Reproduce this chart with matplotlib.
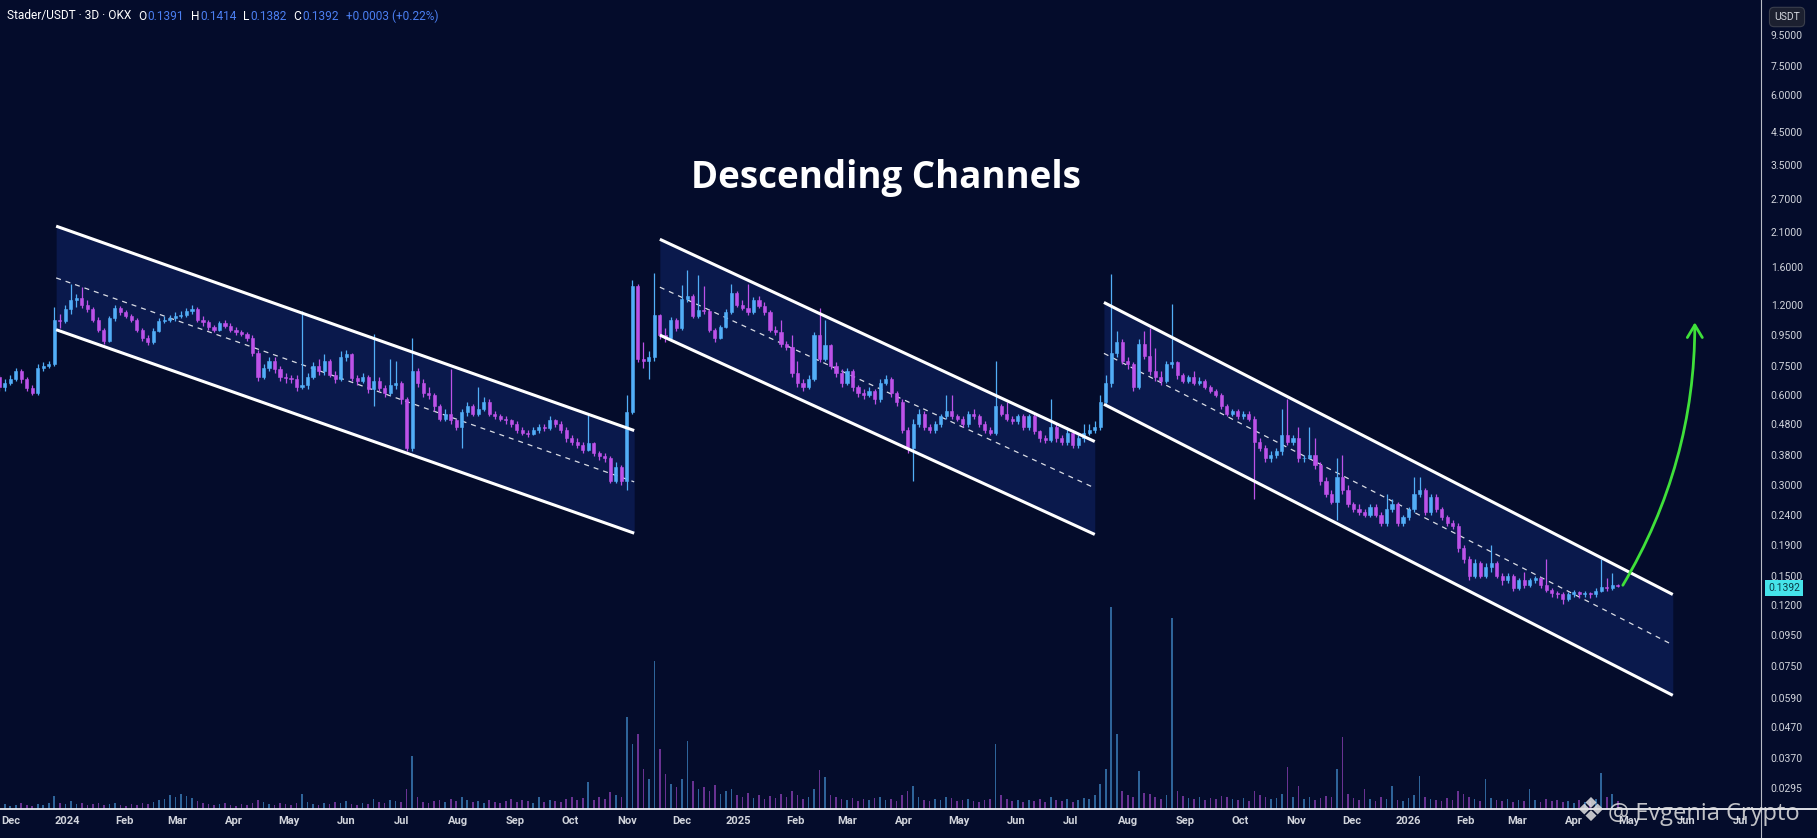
import matplotlib
matplotlib.use("Agg")
import matplotlib.pyplot as plt
import matplotlib.dates as mdates
from matplotlib.lines import Line2D
from matplotlib.ticker import NullLocator
import pandas as pd

BG = "#040c2b"
UP = "#52aef7"
DOWN = "#bd52e8"
FILL = "#0b1a4e"
AXIS_TXT = "#d1d4dc"

# 3D candles, Stader/USDT on OKX
first_open = 0.69
closes = [
    0.64, 0.66, 0.68, 0.72, 0.68, 0.635, 0.61, 0.74, 0.75, 0.76,
    1.07, 1.06, 1.16, 1.24, 1.26, 1.20, 1.16, 1.07, 0.99, 0.91,
    1.08, 1.17, 1.13, 1.10, 1.07, 0.99, 0.93, 0.90, 0.98, 1.06,
    1.07, 1.08, 1.10, 1.11, 1.14, 1.16, 1.07, 1.05, 1.01, 0.99,
    1.04, 1.02, 0.99, 0.97, 0.96, 0.93, 0.83, 0.69, 0.74, 0.78,
    0.73, 0.69, 0.685, 0.68, 0.64, 0.65, 0.69, 0.75, 0.72, 0.78,
    0.70, 0.68, 0.80, 0.82, 0.685, 0.67, 0.69, 0.63, 0.67, 0.635,
    0.61, 0.65, 0.66, 0.58, 0.40, 0.72, 0.66, 0.61, 0.60, 0.55,
    0.50, 0.52, 0.495, 0.47, 0.525, 0.55, 0.52, 0.54, 0.57, 0.52,
    0.51, 0.50, 0.495, 0.48, 0.46, 0.45, 0.445, 0.46, 0.47, 0.465,
    0.495, 0.48, 0.46, 0.43, 0.42, 0.41, 0.395, 0.415, 0.385, 0.375,
    0.37, 0.31, 0.345, 0.31, 0.525, 1.38, 0.79, 0.78, 0.80, 1.11,
    0.95, 0.93, 1.07, 1.00, 1.25, 1.28, 1.10, 1.15, 1.14, 0.99,
    0.93, 1.01, 1.13, 1.31, 1.20, 1.17, 1.13, 1.24, 1.19, 1.13,
    0.99, 0.97, 0.89, 0.87, 0.71, 0.66, 0.64, 0.68, 0.95, 0.79,
    0.88, 0.75, 0.71, 0.66, 0.72, 0.64, 0.61, 0.60, 0.62, 0.58,
    0.66, 0.68, 0.61, 0.57, 0.46, 0.40, 0.48, 0.52, 0.47, 0.46,
    0.48, 0.51, 0.53, 0.51, 0.50, 0.48, 0.52, 0.51, 0.48, 0.46,
    0.45, 0.55, 0.52, 0.50, 0.49, 0.51, 0.47, 0.51, 0.455, 0.43,
    0.425, 0.47, 0.43, 0.42, 0.45, 0.41, 0.43, 0.45, 0.46, 0.47,
    0.57, 0.66, 0.83, 0.90, 0.78, 0.76, 0.64, 0.89, 0.81, 0.72,
    0.69, 0.67, 0.76, 0.77, 0.70, 0.67, 0.69, 0.66, 0.67, 0.64,
    0.62, 0.60, 0.55, 0.52, 0.53, 0.51, 0.52, 0.50, 0.42, 0.40,
    0.37, 0.38, 0.39, 0.44, 0.42, 0.43, 0.37, 0.37, 0.38, 0.35,
    0.31, 0.28, 0.265, 0.32, 0.29, 0.26, 0.25, 0.245, 0.24, 0.255,
    0.24, 0.225, 0.25, 0.26, 0.225, 0.235, 0.25, 0.28, 0.29, 0.245,
    0.275, 0.25, 0.235, 0.225, 0.22, 0.185, 0.17, 0.15, 0.165, 0.15,
    0.16, 0.165, 0.15, 0.145, 0.15, 0.137, 0.145, 0.14, 0.145, 0.147,
    0.14, 0.135, 0.131, 0.13, 0.126, 0.13, 0.132, 0.13, 0.131, 0.13,
    0.134, 0.138, 0.137, 0.14, 0.1392,
]
highs = [
    0.70, 0.68, 0.70, 0.74, 0.73, 0.69, 0.65, 0.76, 0.77, 0.78,
    1.18, 1.12, 1.20, 1.40, 1.30, 1.37, 1.24, 1.18, 1.09, 1.00,
    1.10, 1.20, 1.19, 1.15, 1.12, 1.08, 1.00, 0.95, 1.00, 1.08,
    1.10, 1.11, 1.13, 1.14, 1.17, 1.20, 1.18, 1.10, 1.07, 1.03,
    1.06, 1.07, 1.04, 1.01, 0.99, 0.97, 0.95, 0.85, 0.76, 0.80,
    0.80, 0.75, 0.71, 0.70, 0.70, 1.14, 0.71, 0.77, 0.79, 0.82,
    0.79, 0.72, 0.84, 0.85, 0.83, 0.70, 0.71, 0.70, 0.96, 0.69,
    0.65, 0.79, 0.78, 0.67, 0.59, 0.93, 0.74, 0.68, 0.64, 0.61,
    0.56, 0.54, 0.73, 0.50, 0.54, 0.57, 0.56, 0.64, 0.59, 0.58,
    0.53, 0.52, 0.51, 0.50, 0.49, 0.47, 0.46, 0.47, 0.48, 0.48,
    0.51, 0.50, 0.49, 0.47, 0.44, 0.43, 0.42, 0.52, 0.42, 0.39,
    0.385, 0.375, 0.36, 0.35, 0.60, 1.45, 1.40, 0.90, 0.84, 1.53,
    1.12, 1.00, 1.09, 1.08, 1.39, 1.57, 1.30, 1.50, 1.38, 1.16,
    1.00, 1.03, 1.16, 1.40, 1.33, 1.24, 1.40, 1.27, 1.28, 1.22,
    1.15, 1.02, 1.07, 0.91, 0.95, 0.78, 0.68, 0.70, 0.97, 1.17,
    1.07, 0.89, 0.77, 0.73, 0.74, 0.73, 0.65, 0.63, 0.64, 0.63,
    0.68, 0.70, 0.69, 0.62, 0.58, 0.47, 0.50, 0.54, 0.53, 0.48,
    0.49, 0.52, 0.60, 0.60, 0.52, 0.51, 0.53, 0.54, 0.52, 0.49,
    0.47, 0.78, 0.56, 0.57, 0.51, 0.52, 0.52, 0.52, 0.52, 0.46,
    0.44, 0.58, 0.48, 0.44, 0.47, 0.46, 0.44, 0.48, 0.48, 0.49,
    0.60, 0.70, 1.52, 0.98, 0.92, 0.80, 0.77, 0.92, 0.98, 1.00,
    0.86, 0.72, 0.78, 1.21, 0.78, 0.71, 0.70, 0.72, 0.69, 0.68,
    0.65, 0.63, 0.61, 0.56, 0.54, 0.54, 0.53, 0.53, 0.51, 0.43,
    0.41, 0.39, 0.40, 0.54, 0.58, 0.44, 0.47, 0.38, 0.47, 0.43,
    0.36, 0.32, 0.29, 0.37, 0.38, 0.30, 0.265, 0.26, 0.25, 0.26,
    0.26, 0.245, 0.28, 0.27, 0.265, 0.24, 0.255, 0.32, 0.32, 0.295,
    0.28, 0.28, 0.255, 0.24, 0.23, 0.225, 0.19, 0.175, 0.17, 0.168,
    0.165, 0.19, 0.168, 0.153, 0.153, 0.152, 0.148, 0.155, 0.148, 0.15,
    0.149, 0.17, 0.137, 0.134, 0.132, 0.133, 0.135, 0.134, 0.134, 0.133,
    0.137, 0.17, 0.148, 0.153, 0.1414,
]
lows = [
    0.62, 0.62, 0.65, 0.67, 0.66, 0.62, 0.60, 0.60, 0.72, 0.74,
    0.75, 1.00, 1.04, 1.12, 1.18, 1.17, 1.13, 1.05, 0.97, 0.89,
    0.90, 1.06, 1.11, 1.08, 1.05, 0.97, 0.91, 0.88, 0.89, 0.97,
    1.04, 1.05, 1.06, 1.08, 1.09, 1.12, 1.05, 1.02, 0.99, 0.97,
    0.98, 1.00, 0.97, 0.95, 0.94, 0.91, 0.81, 0.67, 0.68, 0.72,
    0.71, 0.67, 0.66, 0.66, 0.62, 0.63, 0.63, 0.68, 0.70, 0.70,
    0.69, 0.66, 0.67, 0.78, 0.67, 0.65, 0.66, 0.61, 0.55, 0.62,
    0.59, 0.60, 0.63, 0.56, 0.39, 0.39, 0.64, 0.59, 0.58, 0.53,
    0.49, 0.49, 0.48, 0.46, 0.40, 0.51, 0.51, 0.51, 0.53, 0.51,
    0.50, 0.49, 0.48, 0.47, 0.45, 0.44, 0.435, 0.44, 0.45, 0.455,
    0.46, 0.47, 0.45, 0.42, 0.41, 0.40, 0.385, 0.39, 0.375, 0.365,
    0.36, 0.306, 0.305, 0.30, 0.29, 0.52, 0.77, 0.74, 0.68, 0.78,
    0.92, 0.90, 0.92, 0.98, 0.99, 1.22, 1.08, 1.08, 1.12, 0.97,
    0.90, 0.92, 1.00, 1.12, 1.18, 1.15, 1.11, 1.12, 1.17, 1.11,
    0.97, 0.95, 0.87, 0.85, 0.69, 0.64, 0.62, 0.63, 0.67, 0.77,
    0.78, 0.73, 0.69, 0.64, 0.65, 0.62, 0.59, 0.58, 0.59, 0.56,
    0.57, 0.65, 0.59, 0.55, 0.45, 0.385, 0.31, 0.47, 0.46, 0.45,
    0.45, 0.47, 0.50, 0.50, 0.49, 0.47, 0.47, 0.50, 0.47, 0.45,
    0.44, 0.44, 0.51, 0.49, 0.48, 0.48, 0.46, 0.46, 0.445, 0.42,
    0.415, 0.42, 0.42, 0.41, 0.41, 0.40, 0.40, 0.42, 0.44, 0.45,
    0.46, 0.55, 0.64, 0.80, 0.76, 0.73, 0.62, 0.63, 0.79, 0.70,
    0.67, 0.65, 0.66, 0.74, 0.68, 0.66, 0.66, 0.65, 0.65, 0.63,
    0.61, 0.59, 0.54, 0.51, 0.51, 0.50, 0.50, 0.49, 0.27, 0.39,
    0.36, 0.36, 0.37, 0.38, 0.41, 0.41, 0.36, 0.36, 0.37, 0.34,
    0.30, 0.275, 0.26, 0.23, 0.28, 0.255, 0.245, 0.24, 0.235, 0.235,
    0.235, 0.22, 0.22, 0.245, 0.22, 0.22, 0.23, 0.245, 0.275, 0.24,
    0.24, 0.245, 0.23, 0.22, 0.215, 0.18, 0.165, 0.145, 0.148, 0.147,
    0.148, 0.155, 0.147, 0.14, 0.142, 0.134, 0.135, 0.137, 0.138, 0.142,
    0.137, 0.132, 0.128, 0.127, 0.121, 0.124, 0.128, 0.127, 0.128, 0.127,
    0.128, 0.132, 0.134, 0.135, 0.1382,
]
volumes = [
    4, 5, 3, 4, 6, 4, 3, 5, 4, 6,
    13, 6, 5, 8, 5, 6, 4, 5, 6, 4,
    5, 6, 4, 3, 5, 4, 6, 5, 7, 9,
    10, 14, 12, 15, 13, 11, 8, 6, 5, 4,
    5, 6, 4, 3, 5, 4, 6, 9, 7, 5,
    4, 6, 5, 4, 6, 15, 7, 5, 4, 6,
    5, 7, 6, 8, 5, 4, 6, 5, 10, 7,
    6, 9, 8, 7, 20, 53, 12, 7, 6, 8,
    9, 7, 10, 8, 12, 9, 7, 8, 6, 9,
    7, 6, 8, 10, 7, 9, 8, 6, 12, 7,
    9, 8, 7, 10, 12, 9, 11, 27, 9, 12,
    10, 17, 14, 12, 92, 65, 75, 40, 30, 148,
    60, 35, 25, 22, 30, 68, 28, 20, 22, 18,
    24, 15, 18, 20, 14, 12, 16, 11, 14, 10,
    13, 11, 15, 12, 18, 14, 10, 12, 20, 39,
    32, 14, 12, 10, 9, 11, 8, 10, 9, 11,
    12, 9, 10, 8, 14, 18, 23, 12, 9, 8,
    10, 9, 12, 11, 8, 9, 10, 8, 7, 9,
    10, 65, 14, 10, 8, 9, 7, 9, 8, 10,
    7, 12, 9, 8, 10, 7, 9, 11, 10, 14,
    25, 40, 202, 75, 18, 14, 12, 38, 16, 15,
    12, 10, 14, 191, 18, 13, 11, 10, 12, 9,
    11, 10, 13, 12, 10, 9, 11, 8, 18, 14,
    12, 10, 11, 15, 42, 12, 23, 10, 12, 9,
    11, 13, 12, 40, 72, 15, 11, 9, 20, 10,
    8, 12, 10, 23, 9, 8, 11, 14, 33, 12,
    10, 9, 8, 11, 9, 18, 15, 12, 10, 8,
    30, 11, 9, 8, 10, 7, 9, 8, 20, 9,
    7, 10, 8, 9, 7, 8, 6, 9, 7, 8,
    10, 36, 12, 15, 8,
]

price_ticks = [9.5, 7.5, 6.0, 4.5, 3.5, 2.7, 2.1, 1.6, 1.2, 0.95, 0.75, 0.6,
               0.48, 0.38, 0.30, 0.24, 0.19, 0.15, 0.12, 0.095, 0.075, 0.059,
               0.047, 0.037, 0.0295]
month_labels = ["Dec", "2024", "Feb", "Mar", "Apr", "May", "Jun", "Jul", "Aug",
                "Sep", "Oct", "Nov", "Dec", "2025", "Feb", "Mar", "Apr", "May",
                "Jun", "Jul", "Aug", "Sep", "Oct", "Nov", "Dec", "2026", "Feb",
                "Mar", "Apr", "May", "Jun", "Jul"]

# drawn channels: (start, end) dates and prices of the upper / lower rails
channel_dates = [("2023-12-26", "2024-11-05"), ("2024-11-19", "2025-07-14"),
                 ("2025-07-19", "2026-05-25")]
channel_upper = [(2.19, 0.457), (1.98, 0.42), (1.22, 0.130)]
channel_lower = [(0.99, 0.208), (0.95, 0.206), (0.559, 0.060)]

arrow_dates = ("2026-04-27", "2026-06-06")
arrow_prices = (0.137, 1.07)

last_price = 0.1392

# ---------------------------------------------------------------
dates = pd.date_range("2023-11-25", periods=len(closes), freq="3D")
x = mdates.date2num(dates)
opens = [first_open] + closes[:-1]

W, H = 1817, 838
fig = plt.figure(figsize=(W / 100, H / 100), dpi=100, facecolor=BG)
ax = fig.add_axes([0, 29 / H, 1761 / W, 809 / H])
ax2 = ax.twinx()
ax.set_zorder(2)
ax.patch.set_visible(False)
ax2.set_zorder(1)
ax2.patch.set_facecolor(BG)

# volume
vcol = [UP if c >= o else DOWN for o, c in zip(opens, closes)]
ax2.bar(x, volumes, width=0.9, color=vcol, alpha=0.55, linewidth=0)
ax2.set_ylim(0, max(volumes) * 4.0)
ax2.set_yticks([])
for s in ax2.spines.values():
    s.set_visible(False)

# channels
for (d0, d1), (u0, u1), (l0, l1) in zip(channel_dates, channel_upper, channel_lower):
    xs = mdates.date2num(pd.to_datetime([d0, d1]))
    ax.fill_between(xs, [l0, l1], [u0, u1], color=FILL, alpha=0.95, lw=0, zorder=1)
    mid = [(u0 * l0) ** 0.5, (u1 * l1) ** 0.5]
    ax.plot(xs, mid, color="white", lw=0.9, ls=(0, (4, 4)), alpha=0.85, zorder=2)
    ax.plot(xs, [u0, u1], color="white", lw=2.2, zorder=4, solid_capstyle="butt")
    ax.plot(xs, [l0, l1], color="white", lw=2.2, zorder=4, solid_capstyle="butt")

# candles
ccol = [UP if c >= o else DOWN for o, c in zip(opens, closes)]
ax.vlines(x, lows, highs, colors=ccol, lw=0.9, zorder=3)
bottoms = [min(o, c) for o, c in zip(opens, closes)]
heights = [abs(c - o) for o, c in zip(opens, closes)]
ax.bar(x, heights, bottom=bottoms, width=1.7, color=ccol, edgecolor=ccol,
       linewidth=0.4, zorder=3)

# green arrow
ax.annotate("", xy=(mdates.date2num(pd.Timestamp(arrow_dates[1])), arrow_prices[1]),
            xytext=(mdates.date2num(pd.Timestamp(arrow_dates[0])), arrow_prices[0]),
            arrowprops=dict(arrowstyle="->,head_length=0.5,head_width=0.3",
                            color="#3fe03a", lw=2.0, mutation_scale=18,
                            connectionstyle="arc3,rad=0.14"), zorder=5)

# scales
ax.set_yscale("log")
ax.set_ylim(0.0251, 12.4)
x_left = mdates.date2num(pd.Timestamp("2023-11-25")) + 0.4
ax.set_xlim(x_left, x_left + 1761 / 1.835)

ax.yaxis.tick_right()
ax.set_yticks(price_ticks)
ax.set_yticklabels([f"{v:.4f}" for v in price_ticks])
ax.yaxis.set_minor_locator(NullLocator())
ax.tick_params(axis="y", length=0, pad=7, labelsize=7.5, colors=AXIS_TXT,
               labelfontfamily="Roboto")

month_starts = pd.date_range("2023-12-01", periods=len(month_labels), freq="MS")
ax.set_xticks(mdates.date2num(month_starts))
ax.set_xticklabels(month_labels, fontweight="bold")
ax.xaxis.set_minor_locator(NullLocator())
ax.tick_params(axis="x", length=0, pad=5, labelsize=8, colors=AXIS_TXT,
               labelfontfamily="Roboto")
for s in ax.spines.values():
    s.set_visible(False)

# frame lines
fig.add_artist(Line2D([1761 / W, 1761 / W], [0, 1], color="#b9bcc6", lw=0.8))
fig.add_artist(Line2D([0, 1], [29 / H, 29 / H], color="#eef0f4", lw=1.3))

# header, chained piece by piece
hdr = [("Stader/USDT · 3D · OKX", "white", 0), ("O", "white", 5), ("0.1391", "#4b7ff2", 0.5),
       ("H", "white", 5), ("0.1414", "#4b7ff2", 0.5), ("L", "white", 5),
       ("0.1382", "#4b7ff2", 0.5), ("C", "white", 5), ("0.1392", "#4b7ff2", 0.5),
       ("+0.0003 (+0.22%)", "#4b7ff2", 5)]
t = fig.text(7 / W, 1 - 16 / H, hdr[0][0], color=hdr[0][1], fontsize=8.6,
             family="Roboto", va="center")
for s, c, gap in hdr[1:]:
    t = ax.annotate(s, xy=(1, 0.5), xycoords=t, xytext=(gap, 0),
                    textcoords="offset points", va="center", ha="left", color=c,
                    fontsize=8.6, family="Roboto", annotation_clip=False)

# title
fig.text(886 / W, 1 - 178 / H, "Descending Channels", ha="center", va="center",
         fontsize=26.5, fontweight="bold", family="Open Sans", color="white")

# right axis boxes
fig.text(1787 / W, 1 - 17 / H, "USDT", ha="center", va="center", fontsize=7.5,
         family="Roboto", color=AXIS_TXT,
         bbox=dict(boxstyle="round,pad=0.45", fc="#1c2030", ec="#3b3f4c", lw=0.8))
fig.text(1784 / W, 1 - 588 / H, f"{last_price:.4f}", ha="center", va="center",
         fontsize=7.5, family="Roboto", color="#0d3b47",
         bbox=dict(boxstyle="square,pad=0.3", fc="#45e3ea", ec="none"))

# watermark (it sits over the last date labels, as in the original)
fig.text(1590 / W, 1 - 811 / H, "❖", ha="center", va="center", fontsize=24,
         family="DejaVu Sans", color="#e2e2e2", alpha=0.85)
fig.text(1608 / W, 1 - 820 / H, "@ Evgenia Crypto", ha="left", va="baseline",
         fontsize=17, family="Open Sans", color="#e2e2e2", alpha=0.85)

fig.savefig("out.png", dpi=100, facecolor=BG)
